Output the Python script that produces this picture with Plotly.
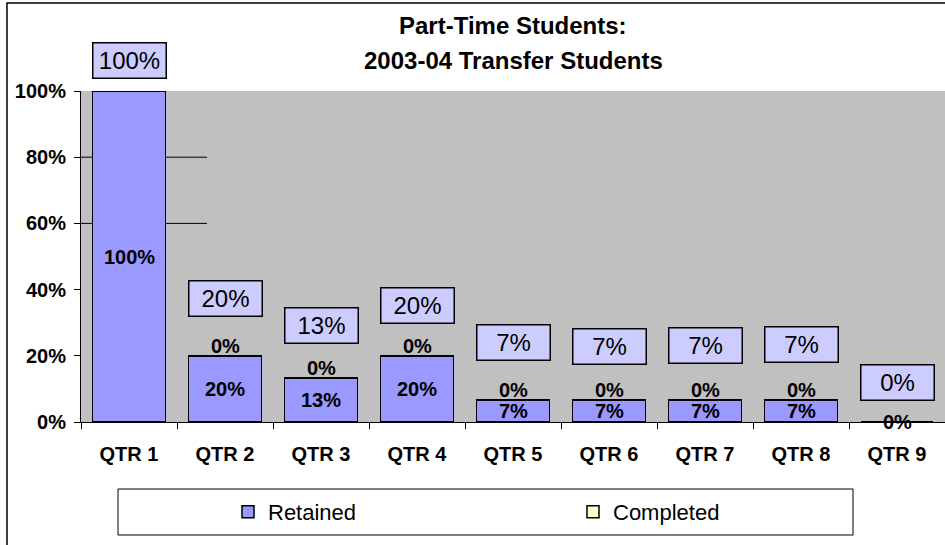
import plotly.graph_objects as go

quarters = ["QTR 1", "QTR 2", "QTR 3", "QTR 4", "QTR 5", "QTR 6", "QTR 7", "QTR 8", "QTR 9"]
retained = [100, 20, 13.33, 20, 6.67, 6.67, 6.67, 6.67, 0]
completed = [0, 0, 0, 0, 0, 0, 0, 0, 0]
y_ticks = [0, 20, 40, 60, 80, 100]

totals = [r + c for r, c in zip(retained, completed)]
# pixel lift of the boxed total labels (Excel placed them unevenly)
box_lift = [31, 57, 52, 50, 57, 53, 54, 55, 40]

FONT = "Arial, Liberation Sans, sans-serif"


def pct(v):
    return "%d%%" % round(v)


fig = go.Figure()
fig.add_trace(go.Bar(x=quarters, y=retained, name="Retained",
                     marker=dict(color="#9999FF", line=dict(color="black", width=1.5))))
fig.add_trace(go.Bar(x=quarters, y=completed, name="Completed",
                     marker=dict(color="#FFFFCC", line=dict(color="black", width=1.5))))

ann = []
for i, q in enumerate(quarters):
    # retained value in the middle of the bar
    ann.append(dict(x=q, y=retained[i] / 2, text="<b>" + pct(retained[i]) + "</b>",
                    showarrow=False, yanchor="middle",
                    font=dict(family=FONT, size=20, color="black")))
    # completed value sitting on top (hidden when it would fall outside the plot)
    if 0 < totals[i] < 100:
        ann.append(dict(x=q, y=totals[i], text="<b>" + pct(completed[i]) + "</b>",
                        showarrow=False, yanchor="bottom", yshift=-3,
                        font=dict(family=FONT, size=20, color="black")))
    # boxed total
    ann.append(dict(x=q, y=totals[i], text=pct(totals[i]), showarrow=False,
                    yanchor="middle", yshift=box_lift[i], width=68, height=30,
                    bgcolor="#CCCCFF", bordercolor="black", borderwidth=1.5, borderpad=2,
                    font=dict(family=FONT, size=24, color="black")))

ann.append(dict(xref="paper", yref="paper", x=0.5, y=(422 - 25) / 331, text="<b>Part-Time Students:</b>",
                showarrow=False, yanchor="middle", font=dict(family=FONT, size=24, color="black")))
ann.append(dict(xref="paper", yref="paper", x=0.5, y=(422 - 60) / 331, text="<b>2003-04 Transfer Students</b>",
                showarrow=False, yanchor="middle", font=dict(family=FONT, size=24, color="black")))

shapes = [
    # outer chart frame
    dict(type="rect", xref="paper", yref="paper", x0=(7 - 81) / 864, x1=1.05, y0=-0.5, y1=(422 - 3) / 331,
         line=dict(color="black", width=1.5), fillcolor="rgba(0,0,0,0)", layer="below"),
    # legend frame
    dict(type="rect", xref="paper", yref="paper", x0=(118 - 81) / 864, x1=(853 - 81) / 864,
         y0=(422 - 535) / 331, y1=(422 - 489) / 331, line=dict(color="black", width=1),
         fillcolor="white", layer="below"),
]
# stray gridline stubs
for g in [60, 80]:
    shapes.append(dict(type="line", xref="paper", yref="y", x0=0, x1=(207 - 81) / 864, y0=g, y1=g,
                       line=dict(color="black", width=1), layer="below"))

fig.update_layout(
    barmode="stack",
    bargap=0.24,
    width=945, height=545,
    margin=dict(l=81, r=0, t=91, b=123),
    paper_bgcolor="white",
    plot_bgcolor="#C0C0C0",
    annotations=ann,
    shapes=shapes,
    showlegend=True,
    legend=dict(orientation="h", x=(228 - 81) / 864, xanchor="left", y=(422 - 512) / 331, yanchor="middle",
                entrywidth=300, itemwidth=30, bgcolor="rgba(0,0,0,0)", traceorder="normal",
                font=dict(family=FONT, size=22, color="black")),
)
fig.update_yaxes(range=[0, 100], tickvals=y_ticks, ticktext=["<b>" + pct(v) + "</b>" for v in y_ticks],
                 showgrid=False, zeroline=False, showline=True, linecolor="black", linewidth=1,
                 ticks="outside", ticklen=6, tickcolor="black", ticklabelstandoff=4,
                 tickfont=dict(family=FONT, size=20, color="black"))
fig.update_xaxes(showgrid=False, showline=True, linecolor="black", linewidth=1,
                 ticks="outside", ticklen=6, tickcolor="black", tickson="boundaries",
                 ticklabelstandoff=14,
                 tickfont=dict(family=FONT, size=20, color="black"),
                 tickvals=quarters, ticktext=["<b>" + q + "</b>" for q in quarters])

fig.write_html("out.html", config={"displayModeBar": False},
               post_script="document.body.style.margin='0';")
